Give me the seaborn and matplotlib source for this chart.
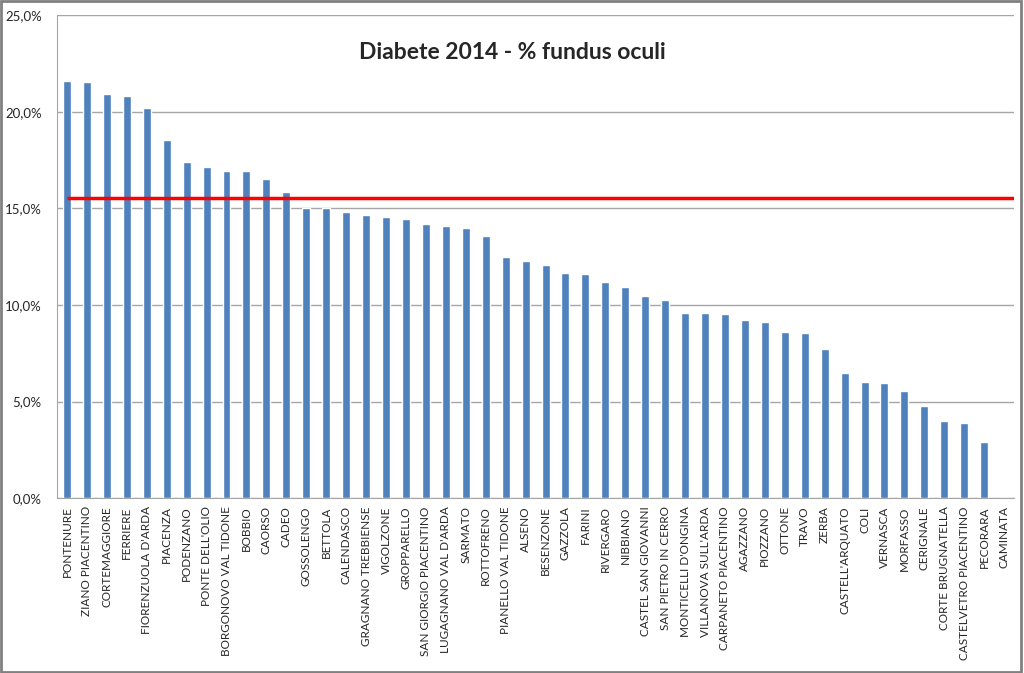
import matplotlib
matplotlib.use("Agg")
import matplotlib.pyplot as plt
import matplotlib.ticker as mticker
import seaborn as sns
import pandas as pd

comuni = ["PONTENURE", "ZIANO PIACENTINO", "CORTEMAGGIORE", "FERRIERE",
          "FIORENZUOLA D'ARDA", "PIACENZA", "PODENZANO", "PONTE DELL'OLIO",
          "BORGONOVO VAL TIDONE", "BOBBIO", "CAORSO", "CADEO", "GOSSOLENGO",
          "BETTOLA", "CALENDASCO", "GRAGNANO TREBBIENSE", "VIGOLZONE",
          "GROPPARELLO", "SAN GIORGIO PIACENTINO", "LUGAGNANO VAL D'ARDA",
          "SARMATO", "ROTTOFRENO", "PIANELLO VAL TIDONE", "ALSENO", "BESENZONE",
          "GAZZOLA", "FARINI", "RIVERGARO", "NIBBIANO", "CASTEL SAN GIOVANNI",
          "SAN PIETRO IN CERRO", "MONTICELLI D'ONGINA", "VILLANOVA SULL'ARDA",
          "CARPANETO PIACENTINO", "AGAZZANO", "PIOZZANO", "OTTONE", "TRAVO",
          "ZERBA", "CASTELL'ARQUATO", "COLI", "VERNASCA", "MORFASSO",
          "CERIGNALE", "CORTE BRUGNATELLA", "CASTELVETRO PIACENTINO",
          "PECORARA", "CAMINATA"]
fundus_pct = [21.6, 21.55, 20.95, 20.85, 20.2, 18.55, 17.4, 17.15, 16.95, 16.95,
              16.55, 15.85, 15.05, 15.0, 14.8, 14.65, 14.55, 14.45, 14.2, 14.1,
              14.0, 13.6, 12.5, 12.3, 12.05, 11.65, 11.6, 11.2, 10.95, 10.45,
              10.25, 9.6, 9.6, 9.55, 9.2, 9.1, 8.6, 8.55, 7.7, 6.5, 6.0, 5.95,
              5.55, 4.75, 4.0, 3.9, 2.9, 0.0]
media_provinciale = 15.55

df = pd.DataFrame({"comune": comuni, "pct": fundus_pct})

sns.set_style("white")
plt.rcParams["font.family"] = ["Lato", "DejaVu Sans"]

fig = plt.figure(figsize=(10.24, 6.73), dpi=100)
ax = fig.add_axes([0.0557, 0.26, 0.9346, 0.717])

sns.barplot(data=df, x="comune", y="pct", color="#4F81BD", saturation=1,
            width=0.4, ax=ax, zorder=3)
ax.hlines(media_provinciale, 0, len(comuni) - 0.5, color="#FF0000",
          linewidth=2.5, zorder=4)

ax.set_xlim(-0.5, len(comuni) - 0.5)
ax.set_ylim(0, 25)
ax.yaxis.set_major_locator(mticker.MultipleLocator(5))
ax.yaxis.set_major_formatter(
    mticker.FuncFormatter(lambda v, p: f"{v:.1f}%".replace(".", ",")))
ax.grid(axis="y", color="#A6A6A6", linewidth=1.0, zorder=0)
ax.set_xlabel("")
ax.set_ylabel("")
ax.tick_params(axis="y", labelsize=9.5, length=5, color="#A6A6A6", pad=6)
ax.tick_params(axis="x", labelsize=8.5, rotation=90, length=0, pad=6)

# tick marks between categories, as in the original
ax.set_xticks([i + 0.5 for i in range(-1, len(comuni))], minor=True)
ax.tick_params(axis="x", which="minor", length=5, color="#A6A6A6")

for s in ["top", "right"]:
    ax.spines[s].set_visible(False)
ax.spines["left"].set_color("#A6A6A6")
ax.spines["bottom"].set_color("#A6A6A6")

fig.text(0.5, 0.922, "Diabete 2014 - % fundus oculi",
         ha="center", va="center", fontsize=16.5, fontweight="bold")

fig.patches.append(plt.Rectangle((0.001, 0.001), 0.996, 0.998,
                                 transform=fig.transFigure, fill=False,
                                 edgecolor="#808080", linewidth=2))

fig.savefig("out.png", dpi=100)
